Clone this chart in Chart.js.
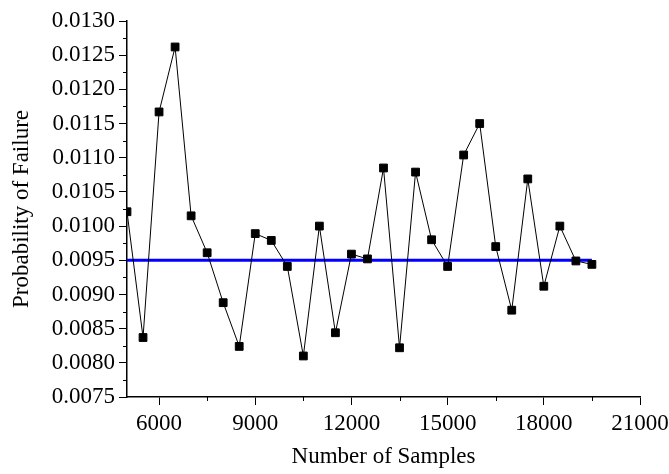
<!DOCTYPE html>
<html>
<head>
<meta charset="utf-8">
<script src="https://cdn.jsdelivr.net/npm/chart.js@4"></script>
<style>
  html, body { margin: 0; padding: 0; background: #fff; }
  canvas { display: block; }
</style>
</head>
<body>
<canvas id="pfChart" width="669" height="474"></canvas>
<script>
// values
const sampleCounts = [5000, 5500, 6000, 6500, 7000, 7500, 8000, 8500, 9000, 9500,
                      10000, 10500, 11000, 11500, 12000, 12500, 13000, 13500, 14000, 14500,
                      15000, 15500, 16000, 16500, 17000, 17500, 18000, 18500, 19000, 19500];
const failureProb = [0.01021, 0.00837, 0.01167, 0.01262, 0.01015, 0.00961, 0.00888, 0.00824, 0.00989, 0.00979,
                     0.00941, 0.00810, 0.01000, 0.00844, 0.00959, 0.00952, 0.01085, 0.00822, 0.01079, 0.00980,
                     0.00941, 0.01104, 0.01150, 0.00970, 0.00877, 0.01069, 0.00912, 0.01000, 0.00949, 0.00944];
const meanProb = 0.0095;
const meanRange = [5000, 19500];

const xMajorTicks = [6000, 9000, 12000, 15000, 18000, 21000];
const xMinorTicks = [7500, 10500, 13500, 16500, 19500];
const yMajorTicks = [0.0075, 0.0080, 0.0085, 0.0090, 0.0095, 0.0100, 0.0105,
                     0.0110, 0.0115, 0.0120, 0.0125, 0.0130];
const yMinorTicks = [0.00775, 0.00825, 0.00875, 0.00925, 0.00975, 0.01025,
                     0.01075, 0.01125, 0.01175, 0.01225, 0.01275];

const FONT = "'Liberation Serif', 'Times New Roman', serif";

// small outward ticks between the labelled ones
const minorTicks = {
    id: 'minorTicks',
    afterDraw(chart) {
        const ctx = chart.ctx;
        const xs = chart.scales.x, ys = chart.scales.y;
        ctx.save();
        ctx.strokeStyle = '#000';
        ctx.lineWidth = 1;
        ctx.beginPath();
        xMinorTicks.forEach(v => {
            const px = Math.round(xs.getPixelForValue(v)) + 0.5;
            ctx.moveTo(px, ys.bottom);
            ctx.lineTo(px, ys.bottom + 4);
        });
        yMinorTicks.forEach(v => {
            const py = Math.round(ys.getPixelForValue(v)) + 0.5;
            ctx.moveTo(xs.left, py);
            ctx.lineTo(xs.left - 4, py);
        });
        ctx.stroke();
        ctx.restore();
    }
};

new Chart(document.getElementById('pfChart').getContext('2d'), {
    type: 'line',
    data: {
        datasets: [{
            label: 'Probability of Failure',
            data: sampleCounts.map((n, i) => ({ x: n, y: failureProb[i] })),
            borderColor: '#000',
            borderWidth: 1,
            pointStyle: 'rect',
            pointRadius: 5.5,
            pointBackgroundColor: '#000',
            pointBorderColor: '#000',
            pointBorderWidth: 1,
            tension: 0,
            order: 1
        }, {
            label: 'Mean',
            data: meanRange.map(n => ({ x: n, y: meanProb })),
            borderColor: '#0000ff',
            borderWidth: 3,
            pointRadius: 0,
            tension: 0,
            order: 2
        }]
    },
    options: {
        responsive: false,
        animation: false,
        layout: { padding: { top: 21, right: 29, bottom: 0, left: 0 } },
        plugins: {
            legend: { display: false },
            tooltip: { enabled: false }
        },
        scales: {
            x: {
                type: 'linear',
                min: 5000,
                max: 21000,
                afterBuildTicks: s => { s.ticks = xMajorTicks.map(v => ({ value: v })); },
                afterFit: s => { s.height = 77; s.paddingLeft = 0; s.paddingRight = 0; },
                ticks: {
                    color: '#000',
                    font: { family: FONT, size: 23 },
                    padding: 5,
                    maxRotation: 0,
                    callback: v => String(v)
                },
                grid: { drawOnChartArea: false, tickLength: 8, color: '#000', tickWidth: 1 },
                border: { color: '#000', width: 1.5 },
                title: {
                    display: true,
                    text: 'Number of Samples',
                    color: '#000',
                    font: { family: FONT, size: 23 },
                    padding: { top: 0, bottom: 3 }
                }
            },
            y: {
                type: 'linear',
                min: 0.0075,
                max: 0.0130,
                afterBuildTicks: s => { s.ticks = yMajorTicks.map(v => ({ value: v })); },
                afterFit: s => { s.width = 127; },
                ticks: {
                    color: '#000',
                    font: { family: FONT, size: 23 },
                    padding: 4,
                    callback: v => v.toFixed(4)
                },
                grid: { drawOnChartArea: false, tickLength: 8, color: '#000', tickWidth: 1 },
                border: { color: '#000', width: 1.5 },
                title: {
                    display: true,
                    text: 'Probability of Failure',
                    color: '#000',
                    font: { family: FONT, size: 23 },
                    padding: { top: 8, bottom: 0 }
                }
            }
        }
    },
    plugins: [minorTicks]
});
</script>
</body>
</html>
